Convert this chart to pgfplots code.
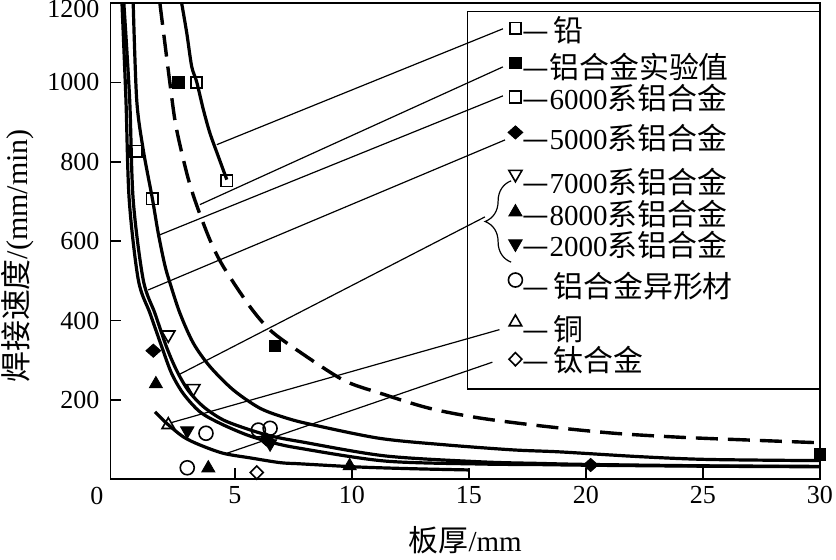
\documentclass[border=0pt]{standalone}
\usepackage{fontspec}
\setmainfont{Liberation Serif}
\newfontfamily\cjk[Scale=1.03]{Noto Sans CJK SC}
\usepackage{pgfplots}
\pgfplotsset{compat=1.18}
\usetikzlibrary{decorations.pathreplacing}
\newcommand{\LE}[2]{\rule{0pt}{#1pt}\smash{#2}}
\begin{document}
\begin{tikzpicture}
\begin{axis}[
  scale only axis, width=354.75pt, height=238.15pt,
  xmin=-0.32, xmax=30, ymin=0, ymax=1200,
  xtick={5,10,...,30}, ytick={200,400,...,1200},
  yticklabels={200,400,600,800,1000,\raisebox{-7.5pt}[0pt][0pt]{1200}},
  tick align=inside, xtick pos=left, ytick pos=left,
  major tick length=5.5pt,
  axis line style={line width=0.9pt},
  tick style={black, line width=0.8pt},
  /pgf/number format/assume math mode=true,
  /pgf/number format/1000 sep={},
  tick label style={font=\fontsize{13}{15}\selectfont},
  yticklabel style={xshift=-2pt},
  label style={font=\fontsize{15}{17}\selectfont},
  xlabel={{\cjk 板厚}/mm},
  ylabel={{\cjk 焊接速度}/(mm/min)},
  xlabel style={yshift=-4.5pt, font=\fontsize{14.5}{16}\selectfont},
  ylabel style={at={(ticklabel cs:0.469)}},
  legend style={at={(axis cs:16.65,1178)}, anchor=north west, draw=none, fill=none, inner sep=0pt, row sep=0pt, column sep=0pt, nodes={inner sep=0pt}, font=\fontsize{14.5}{16}\selectfont},
  legend cell align=left,
  legend image code/.code={\draw[mark repeat=2,mark phase=2,#1] plot coordinates {(0cm,0cm)(0.15cm,0cm)(0.3cm,0cm)};},
]
% ---- curves ----
% lead
\addplot[forget plot, smooth, line width=1.6pt] coordinates {(2.72,1200)(2.94,1124)(3.15,1040)(3.36,1002)(3.65,931)(3.93,872)(4.29,813)(4.65,755)};
% aluminium alloy experimental (dashed)
\addplot[forget plot, smooth, line width=1.7pt, dash pattern=on 11pt off 5pt] coordinates {(1.79,1200)(2.22,998)(2.48,889)(2.94,771)(3.33,696)(3.93,603)(4.5,536)(5.64,435)(6.5,376)(7.64,326)(9.63,250)(11.2,217)(13.3,179)(15.5,154)(18.3,133)(21.2,116)(24,106)(26.9,99)(30,92)};
% 6000 series curve
\addplot[forget plot, smooth, line width=1.6pt] coordinates {(0.65,1200)(0.8,956)(1.08,830)(1.47,707)(1.72,620)(2.0,540)(2.22,495)(2.65,418)(3.22,343)(3.93,284)(4.93,225)(6.07,179)(7.21,154)(8.35,137)(11.2,103)(14.05,86.5)(16.9,74)(18.9,69)(22.3,57)(25.2,50)(30,47)};
% pair of curves
\addplot[forget plot, smooth, line width=1.6pt] coordinates {(0.17,1200)(0.34,956)(0.48,704)(0.87,502)(1.37,418)(1.87,334)(2.29,267)(2.79,216)(3.5,170)(4.36,141)(5.5,112)(6.6,92.5)(7.78,78)(11.4,46)(15.5,38.5)(18,37)(20,35.5)(25,33)(30,31.5)};
\addplot[forget plot, smooth, line width=1.6pt] coordinates {(0.25,1200)(0.5,956)(0.65,704)(1.08,502)(1.58,418)(2.07,334)(2.5,275)(3.0,224)(3.65,183)(4.5,149.5)(5.64,124.5)(6.64,107.6)(7.78,95)(11.4,59)(15.5,44)(18,40)(20,37.5)(25,34)(30,32.5)};
% lowest curve
\addplot[forget plot, smooth, line width=1.6pt] coordinates {(1.58,170)(2.08,141)(2.79,107)(3.5,86.5)(4.5,65.5)(5.64,54)(6.92,42)(7.78,39)(9.9,32)(11.2,29)(13,26)(15.04,23.5)};
% ---- marks ----
\addplot[only marks, mark=square, mark size=2.8pt, mark options={fill=white, line width=0.8pt}] coordinates {(3.36,1000)(4.65,752)};
\addlegendentry{\LE{14.5}{{\cjk —}\hspace{2pt}{\cjk 铅}}}
\addplot[only marks, mark=square*, mark size=2.9pt, mark options={fill=black}] coordinates {(2.58,1000)(6.71,336)(30,63)};
\addlegendentry{\LE{17.15}{{\cjk —铝合金实验值}}}
\addplot[only marks, mark=square, mark size=2.9pt, mark options={fill=white, line width=0.8pt}] coordinates {(0.77,826)(1.47,707)};
\addlegendentry{\LE{14.1}{{\cjk —}6000{\cjk 系铝合金}}}
\addplot[only marks, mark=diamond*, mark size=3.3pt, mark options={fill=black, xscale=1.5}] coordinates {(1.51,324)(6.35,100)(20.2,36)};
\addlegendentry{\LE{18.3}{{\cjk —}5000{\cjk 系铝合金}}}
\addplot[only marks, mark=triangle, mark size=3.8pt, mark options={fill=white, line width=0.8pt, rotate=180}] coordinates {(2.15,364)(3.22,229)};
\addlegendentry{\LE{20.4}{{\cjk —}7000{\cjk 系铝合金}}}
\addplot[only marks, mark=triangle*, mark size=3.8pt, mark options={fill=black}] coordinates {(1.62,240)(3.86,28)(9.9,33.5)};
\addlegendentry{\LE{14.55}{{\cjk —}8000{\cjk 系铝合金}}}
\addplot[only marks, mark=triangle*, mark size=3.9pt, mark options={fill=black, rotate=180}] coordinates {(2.96,122.5)(6.5,90)};
\addlegendentry{\LE{14.15}{{\cjk —}2000{\cjk 系铝合金}}}
\addplot[only marks, mark=o, mark size=3.5pt, mark options={fill=white, line width=0.8pt}] coordinates {(3.76,116)(6.0,124)(6.5,128.5)(2.96,29)};
\addlegendentry{\LE{19.1}{{\cjk —}\hspace{2pt}{\cjk 铝合金异形材}}}
\addplot[only marks, mark=triangle, mark size=3.6pt, mark options={fill=white, line width=0.8pt}] coordinates {(2.15,137)};
\addlegendentry{\LE{20.0}{{\cjk —}\hspace{2pt}{\cjk 铜}}}
\addplot[only marks, mark=diamond, mark size=3.3pt, mark options={fill=white, line width=0.8pt, xscale=1.3}] coordinates {(5.93,17)};
\addlegendentry{\LE{14.1}{{\cjk —}\hspace{2pt}{\cjk 钛合金}}}
% ---- legend frame, leader lines, brace ----
\draw[line width=0.8pt] (axis cs:14.93,227.6) rectangle (axis cs:30,1178.7);
\draw[line width=0.6pt] (axis cs:4.22,843) -- (axis cs:16.45,1135);
\draw[line width=0.6pt] (axis cs:3.5,692) -- (axis cs:16.45,1039);
\draw[line width=0.6pt] (axis cs:1.79,616) -- (axis cs:16.45,966);
\draw[line width=0.6pt] (axis cs:1.29,477) -- (axis cs:16.54,855);
\draw[line width=0.6pt] (axis cs:2.58,263) -- (axis cs:15.68,661);
\draw[line width=0.6pt] (axis cs:2.29,143) -- (axis cs:16.3,377);
\draw[line width=0.6pt] (axis cs:4.65,65.5) -- (axis cs:16.0,295);
\draw[line width=0.6pt, decorate, decoration={brace, amplitude=13pt}] (axis cs:16.8,547) -- (axis cs:16.8,752);
\end{axis}
\node[font=\fontsize{13}{15}\selectfont] at (-6.75pt,-8.35pt) {0};
\pgfresetboundingbox
\path (-55.25pt,-40.35pt) rectangle (362.75pt,239.65pt);
\end{tikzpicture}
\end{document}
